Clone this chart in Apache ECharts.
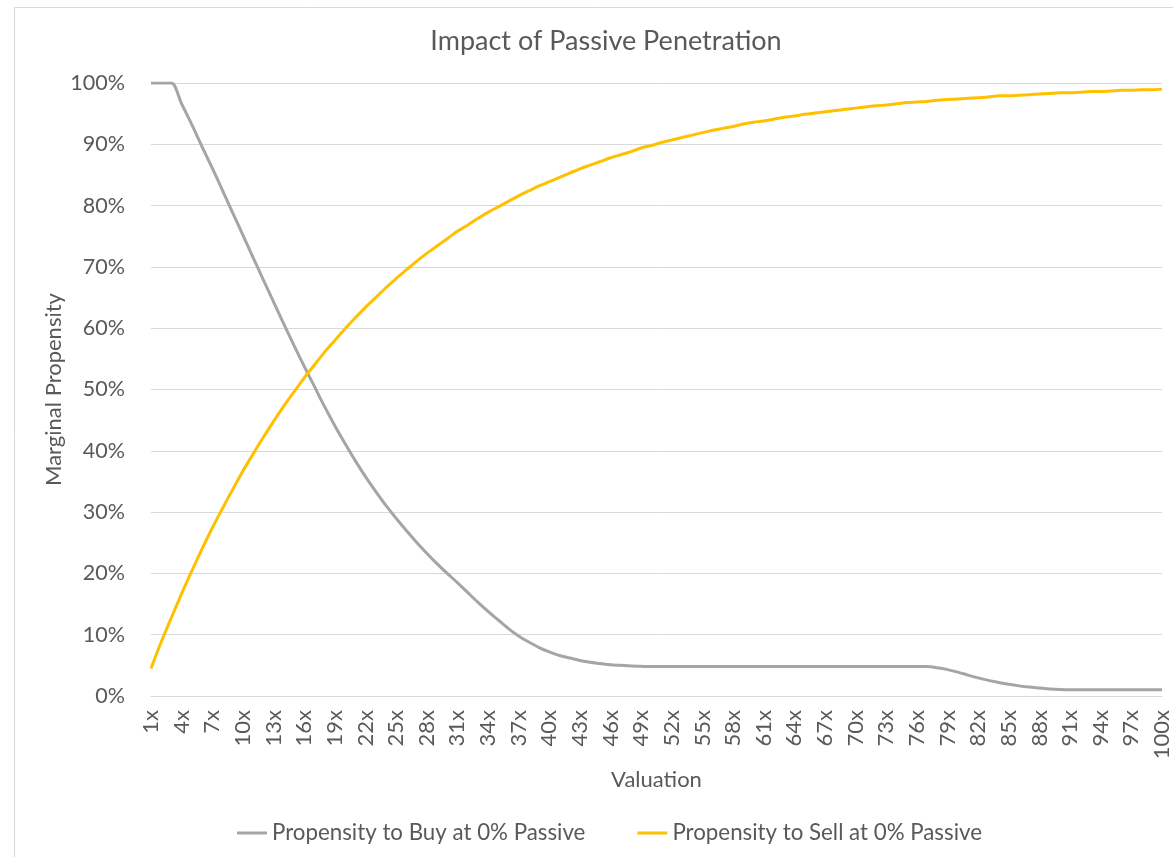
<!DOCTYPE html>
<html>
<head>
<meta charset="utf-8">
<title>Impact of Passive Penetration</title>
<script src="https://cdn.jsdelivr.net/npm/echarts@6/dist/echarts.min.js"></script>
<style>
  html, body { margin: 0; padding: 0; background: #ffffff; }
  #chart { width: 1173px; height: 857px; }
</style>
</head>
<body>
<div id="chart"></div>
<script>
// Valuation multiples 1x .. 100x
const valuations = [];
for (let v = 1; v <= 100; v++) valuations.push(v + 'x');

// Marginal propensity to buy (%), one value per valuation multiple
const buyAt0Passive = [
  100, 100, 100, 96.6, 93.2, 89.6, 86.1, 82.5, 78.8, 75.2,
  71.5, 67.9, 64.3, 60.7, 57.2, 53.8, 50.5, 47.2, 44.1, 41.2,
  38.4, 35.8, 33.4, 31.1, 29.0, 27.0, 25.1, 23.3, 21.6, 20.0,
  18.5, 16.9, 15.3, 13.8, 12.4, 11.0, 9.8, 8.8, 7.9, 7.2,
  6.6, 6.2, 5.8, 5.5, 5.3, 5.1, 5.0, 4.9, 4.85, 4.8,
  4.8, 4.8, 4.8, 4.8, 4.8, 4.8, 4.8, 4.8, 4.8, 4.8,
  4.8, 4.8, 4.8, 4.8, 4.8, 4.8, 4.8, 4.8, 4.8, 4.8,
  4.8, 4.8, 4.8, 4.8, 4.8, 4.8, 4.8, 4.6, 4.3, 3.9,
  3.4, 2.95, 2.55, 2.2, 1.9, 1.65, 1.45, 1.3, 1.15, 1.05,
  1.0, 1.0, 1.0, 1.0, 1.0, 1.0, 1.0, 1.0, 1.0, 1.0
];

// Marginal propensity to sell (%), one value per valuation multiple
const sellAt0Passive = [
  4.5, 8.8, 12.8, 16.7, 20.4, 24.0, 27.4, 30.6, 33.7, 36.7,
  39.5, 42.2, 44.8, 47.3, 49.6, 51.9, 54.0, 56.1, 58.0, 59.9,
  61.7, 63.4, 65.0, 66.6, 68.1, 69.5, 70.9, 72.2, 73.4, 74.6,
  75.8, 76.8, 77.9, 78.9, 79.8, 80.7, 81.6, 82.4, 83.2, 83.9,
  84.6, 85.3, 86.0, 86.6, 87.2, 87.8, 88.3, 88.8, 89.4, 89.8,
  90.3, 90.7, 91.1, 91.5, 91.9, 92.3, 92.6, 92.9, 93.3, 93.6,
  93.8, 94.1, 94.4, 94.6, 94.9, 95.1, 95.3, 95.5, 95.7, 95.9,
  96.1, 96.3, 96.4, 96.6, 96.8, 96.9, 97.0, 97.2, 97.3, 97.4,
  97.5, 97.6, 97.7, 97.9, 97.9, 98.0, 98.1, 98.2, 98.3, 98.4,
  98.4, 98.5, 98.6, 98.6, 98.7, 98.8, 98.8, 98.9, 98.9, 99.0
];

const seriesNames = ['Propensity to Buy at 0% Passive', 'Propensity to Sell at 0% Passive'];

const FONT = 'Lato, "Open Sans", sans-serif';
const TEXT = '#595959';
const GRID = '#D9D9D9';

const chart = echarts.init(document.getElementById('chart'), null, { renderer: 'canvas' });

chart.setOption({
  backgroundColor: '#ffffff',
  animation: false,
  textStyle: { fontFamily: FONT },
  graphic: [{
    type: 'rect',
    shape: { x: 14.5, y: 7.5, width: 1200, height: 900 },
    style: { fill: 'none', stroke: GRID, lineWidth: 1 },
    silent: true,
    z: -1
  }],
  title: {
    text: 'Impact of Passive Penetration',
    left: 601,
    textAlign: 'center',
    top: 23,
    textStyle: { fontFamily: FONT, fontSize: 27, fontWeight: 'normal', color: TEXT }
  },
  legend: {
    data: seriesNames,
    left: 237,
    top: 822,
    padding: 0,
    itemWidth: 30,
    itemHeight: 3,
    itemGap: 52,
    icon: 'rect',
    textStyle: { fontFamily: FONT, fontSize: 22.3, color: TEXT }
  },
  // the last category sits at the very right edge, so the 100x label is cut
  grid: { left: 151, right: 2, top: 83, bottom: 161, containLabel: false },
  xAxis: {
    type: 'category',
    data: valuations,
    boundaryGap: false,
    name: 'Valuation',
    nameLocation: 'middle',
    nameGap: 73,
    nameMoveOverlap: false,
    nameTextStyle: { fontFamily: FONT, fontSize: 22, color: TEXT },
    axisLine: { lineStyle: { color: GRID, width: 1 } },
    axisTick: { show: false },
    axisLabel: {
      interval: 2,
      rotate: 90,
      margin: 14,
      fontFamily: FONT,
      fontSize: 22,
      color: TEXT
    },
    splitLine: { show: false }
  },
  yAxis: {
    type: 'value',
    min: 0,
    max: 100,
    interval: 10,
    name: 'Marginal Propensity',
    nameLocation: 'middle',
    nameRotate: 90,
    nameGap: 86,
    nameMoveOverlap: false,
    nameTextStyle: { fontFamily: FONT, fontSize: 22, color: TEXT },
    axisLine: { show: false },
    axisTick: { show: false },
    axisLabel: {
      margin: 26,
      fontFamily: FONT,
      fontSize: 21.5,
      color: TEXT,
      formatter: v => v + '%'
    },
    splitLine: { lineStyle: { color: GRID, width: 1 } }
  },
  series: [
    {
      name: seriesNames[0],
      type: 'line',
      data: buyAt0Passive,
      smooth: 0.3,
      symbol: 'none',
      lineStyle: { color: '#A5A5A5', width: 3 },
      itemStyle: { color: '#A5A5A5' }
    },
    {
      name: seriesNames[1],
      type: 'line',
      data: sellAt0Passive,
      smooth: 0.3,
      symbol: 'none',
      lineStyle: { color: '#FFC000', width: 3 },
      itemStyle: { color: '#FFC000' }
    }
  ]
});
</script>
</body>
</html>
